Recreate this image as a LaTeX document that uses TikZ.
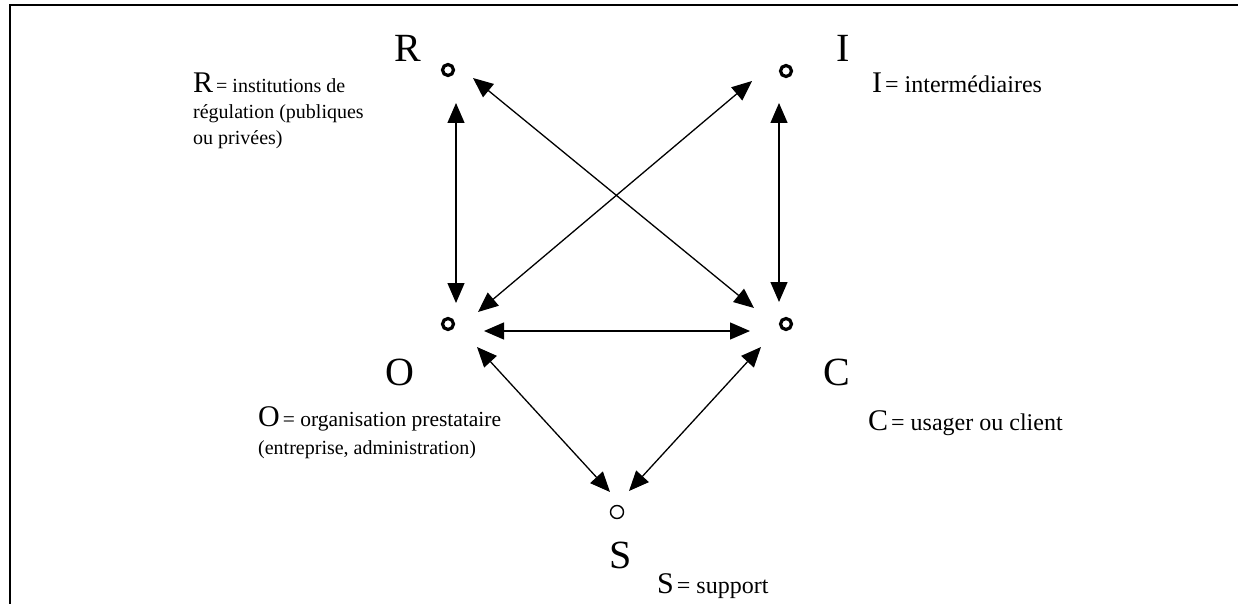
\documentclass[tikz,border=0pt]{standalone}
\usepackage{fontspec}
\setmainfont{Liberation Serif}
\usetikzlibrary{arrows.meta}
\newcommand{\smalltxt}{\fontsize{20}{26}\selectfont}
\newcommand{\otxt}{\fontsize{21.5}{28}\selectfont}
\newcommand{\medtxt}{\fontsize{24}{28}\selectfont}
\newcommand{\bigltr}{\fontsize{40}{40}\selectfont}
\newcommand{\midltr}{\fontsize{30}{30}\selectfont}
\begin{document}
\begin{tikzpicture}[x=1pt,y=-1pt,
  dot/.style={circle,draw,line width=3.2pt,minimum size=11pt,inner sep=0pt},
  thindot/.style={circle,draw,line width=1.4pt,minimum size=13pt,inner sep=0pt},
  bigl/.style={anchor=base,inner sep=0pt,font=\bigltr},
  desc/.style={anchor=base west,inner sep=0pt,font=\smalltxt},
  desclg/.style={anchor=base west,inner sep=0pt,font=\medtxt},
  link/.style={line width=1.3pt,{Triangle[length=20pt,width=17pt]}-{Triangle[length=20pt,width=17pt]}}]
\useasboundingbox (0,0) rectangle (1238,604);
% frame
\coordinate (f1) at (1238,5);
\coordinate (f2) at (10,5);
\coordinate (f3) at (10,604);
\draw[line width=1.5pt] (f1) -- (f2) -- (f3);
% points
\node[dot] (R) at (448,70) {};
\node[dot] (I) at (786,71) {};
\node[dot] (O) at (448,324) {};
\node[dot] (C) at (786,324) {};
\node[thindot] (S) at (617,512) {};
% big letters
\node[bigl] (Rl) at (408,62) {R};
\node[bigl] (Il) at (843,62) {I};
\node[bigl] (Ol) at (400,385) {O};
\node[bigl] (Cl) at (837,385) {C};
\node[bigl] (Sl) at (621,568) {S};
% descriptions
\node[desc] (Rd1) at (193,93) {{\midltr R}\kern3pt= institutions de};
\node[desc] (Rd2) at (193,119) {régulation (publiques};
\node[desc] (Rd3) at (193,145) {ou privées)};
\node[desclg] (Id) at (872,93) {{\midltr I}\kern3pt= intermédiaires};
\node[desc,font=\otxt] (Od1) at (258,426) {{\midltr O}\kern3pt= organisation prestataire};
\node[desc] (Od2) at (258,454) {(entreprise, administration)};
\node[desclg] (Cd) at (868,430) {{\midltr C}\kern3pt= usager ou client};
\node[desclg] (Sd) at (657,593) {{\midltr S}\kern3pt= support};
% arrow ends
\coordinate (ro1) at (456,103);
\coordinate (ro2) at (456,303);
\coordinate (ic1) at (779,103);
\coordinate (ic2) at (779,302);
\coordinate (rc1) at (473,78);
\coordinate (rc2) at (754,308);
\coordinate (io1) at (752,81);
\coordinate (io2) at (478,312);
\coordinate (oc1) at (484,331);
\coordinate (oc2) at (750,331);
\coordinate (os1) at (477,347);
\coordinate (os2) at (610,492);
\coordinate (cs1) at (761,347);
\coordinate (cs2) at (629,491);
\draw[link] (ro1) -- (ro2);
\draw[link] (ic1) -- (ic2);
\draw[link] (rc1) -- (rc2);
\draw[link] (io1) -- (io2);
\draw[link] (oc1) -- (oc2);
\draw[link] (os1) -- (os2);
\draw[link] (cs1) -- (cs2);
\end{tikzpicture}
\end{document}
